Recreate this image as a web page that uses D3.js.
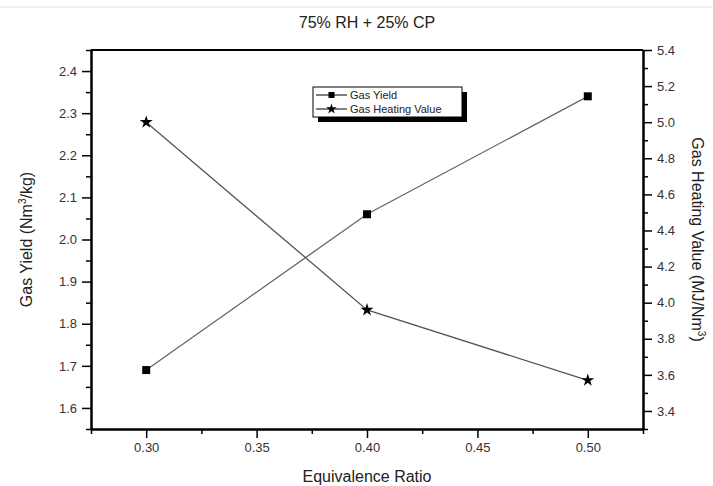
<!DOCTYPE html>
<html>
<head>
<meta charset="utf-8">
<script src="https://cdn.jsdelivr.net/npm/d3@7"></script>
<style>
  body { margin: 0; background: #fff; }
  text { font-family: "Liberation Sans", Arial, sans-serif; fill: #222; }
</style>
</head>
<body>
<script>
// data
const ratios = [0.30, 0.40, 0.50];
const gasYield = [1.69, 2.06, 2.34];
const heatingValue = [5.00, 3.96, 3.57];
const xTicks = [0.30, 0.35, 0.40, 0.45, 0.50];
const yLeftTicks = [1.6, 1.7, 1.8, 1.9, 2.0, 2.1, 2.2, 2.3, 2.4];
const yRightTicks = [3.4, 3.6, 3.8, 4.0, 4.2, 4.4, 4.6, 4.8, 5.0, 5.2, 5.4];

const width = 713, height = 486;
const margin = { top: 50, right: 70, bottom: 57, left: 91 };

const svg = d3.select("body").append("svg")
  .attr("width", width)
  .attr("height", height);

// faint rule along the top edge
svg.append("line")
  .attr("x1", 0).attr("x2", width)
  .attr("y1", 7).attr("y2", 7)
  .attr("stroke", "#e6e6e6");

const x = d3.scaleLinear().domain([0.275, 0.525]).range([margin.left, width - margin.right]);
const yL = d3.scaleLinear().domain([1.55, 2.45]).range([height - margin.bottom, margin.top]);
const yR = d3.scaleLinear().domain([3.3, 5.4]).range([height - margin.bottom, margin.top]);

const x0 = x.range()[0], x1 = x.range()[1];
const yb = yL.range()[0], yt = yL.range()[1];

// frame top line
svg.append("line")
  .attr("x1", x0).attr("x2", x1).attr("y1", yt).attr("y2", yt)
  .attr("stroke", "#000").attr("stroke-width", 2);

function styleAxis(g) {
  g.select(".domain").attr("stroke", "#000").attr("stroke-width", 2);
  g.selectAll(".tick line").attr("stroke", "#000").attr("stroke-width", 1.5);
  g.selectAll(".tick text").style("font-size", "13px").style("fill", "#333")
    .style("font-family", "'Liberation Sans', Arial, sans-serif");
}

// minor ticks
const minorX = d3.range(0.275, 0.5251, 0.05);
const minorL = d3.range(1.55, 2.4501, 0.1);
const minorR = d3.range(3.3, 5.4001, 0.2);

svg.append("g").attr("transform", `translate(0,${yb})`)
  .call(d3.axisBottom(x).tickValues(minorX).tickSize(5).tickFormat("").tickSizeOuter(0))
  .call(styleAxis);
svg.append("g").attr("transform", `translate(${x0},0)`)
  .call(d3.axisLeft(yL).tickValues(minorL).tickSize(5).tickFormat("").tickSizeOuter(0))
  .call(styleAxis);
svg.append("g").attr("transform", `translate(${x1},0)`)
  .call(d3.axisRight(yR).tickValues(minorR).tickSize(5).tickFormat("").tickSizeOuter(0))
  .call(styleAxis);

// major ticks
svg.append("g").attr("transform", `translate(0,${yb})`)
  .call(d3.axisBottom(x).tickValues(xTicks).tickSize(9).tickPadding(5).tickFormat(d3.format(".2f")).tickSizeOuter(0))
  .call(styleAxis);
svg.append("g").attr("transform", `translate(${x0},0)`)
  .call(d3.axisLeft(yL).tickValues(yLeftTicks).tickSize(9).tickPadding(5).tickFormat(d3.format(".1f")).tickSizeOuter(0))
  .call(styleAxis);
svg.append("g").attr("transform", `translate(${x1},0)`)
  .call(d3.axisRight(yR).tickValues(yRightTicks).tickSize(9).tickPadding(5).tickFormat(d3.format(".1f")).tickSizeOuter(0))
  .call(styleAxis);

// titles
svg.append("text")
  .attr("x", (x0 + x1) / 2).attr("y", 28)
  .attr("text-anchor", "middle")
  .style("font-size", "16px")
  .text("75% RH + 25% CP");

svg.append("text")
  .attr("x", (x0 + x1) / 2).attr("y", 482)
  .attr("text-anchor", "middle")
  .style("font-size", "16px")
  .text("Equivalence Ratio");

const lt = svg.append("text")
  .attr("transform", `translate(32,${(yb + yt) / 2}) rotate(-90)`)
  .attr("text-anchor", "middle")
  .style("font-size", "16px");
lt.append("tspan").text("Gas Yield (Nm");
lt.append("tspan").attr("dy", -6).style("font-size", "10px").text("3");
lt.append("tspan").attr("dy", 6).text("/kg)");

const rt = svg.append("text")
  .attr("transform", `translate(692,${(yb + yt) / 2}) rotate(90)`)
  .attr("text-anchor", "middle")
  .style("font-size", "16px");
rt.append("tspan").text("Gas Heating Value (MJ/Nm");
rt.append("tspan").attr("dy", -6).style("font-size", "10px").text("3");
rt.append("tspan").attr("dy", 6).text(")");

// series
const lineL = d3.line().x((d, i) => x(ratios[i])).y(d => yL(d));
const lineR = d3.line().x((d, i) => x(ratios[i])).y(d => yR(d));

svg.append("path").datum(gasYield)
  .attr("d", lineL).attr("fill", "none")
  .attr("stroke", "#666").attr("stroke-width", 1.3);
svg.append("path").datum(heatingValue)
  .attr("d", lineR).attr("fill", "none")
  .attr("stroke", "#555").attr("stroke-width", 1.3);

const sq = d3.symbol().type(d3.symbolSquare).size(64);
const star = d3.symbol().type(d3.symbolStar).size(52);

svg.selectAll(".sq").data(gasYield).join("path")
  .attr("class", "sq")
  .attr("d", sq)
  .attr("transform", (d, i) => `translate(${x(ratios[i])},${yL(d)})`)
  .attr("fill", "#000");
svg.selectAll(".st").data(heatingValue).join("path")
  .attr("class", "st")
  .attr("d", star)
  .attr("transform", (d, i) => `translate(${x(ratios[i])},${yR(d)})`)
  .attr("fill", "#000");

// legend
const legend = svg.append("g").attr("transform", "translate(313,87)");
legend.append("rect").attr("x", 5).attr("y", 5).attr("width", 149).attr("height", 30).attr("fill", "#000");
legend.append("rect").attr("width", 149).attr("height", 30).attr("fill", "#fff").attr("stroke", "#000").attr("stroke-width", 1);
const items = ["Gas Yield", "Gas Heating Value"];
items.forEach((name, i) => {
  const yy = 8 + i * 14;
  legend.append("line").attr("x1", 3).attr("x2", 34).attr("y1", yy).attr("y2", yy)
    .attr("stroke", "#000").attr("stroke-width", 1);
  legend.append("path").attr("d", i === 0 ? d3.symbol().type(d3.symbolSquare).size(36)() : d3.symbol().type(d3.symbolStar).size(34)())
    .attr("transform", `translate(18.5,${yy})`).attr("fill", "#000");
  legend.append("text").attr("x", 37).attr("y", yy + 4)
    .style("font-size", "11px").text(name);
});
</script>
</body>
</html>
